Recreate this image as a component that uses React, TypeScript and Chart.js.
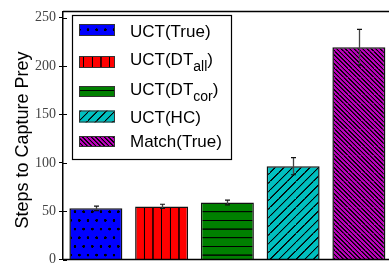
import React, { useEffect, useRef } from 'react';
import { Chart, registerables } from 'chart.js';

Chart.register(...registerables);

// ---- data ----
const categories = ['UCT(True)', 'UCT(DT_all)', 'UCT(DT_cor)', 'UCT(HC)', 'Match(True)'];
const legendMain = ['UCT(True)', 'UCT(DT', 'UCT(DT', 'UCT(HC)', 'Match(True)'];
const legendSub = ['', 'all', 'cor', '', ''];
const legendTail = ['', ')', ')', '', ''];
const steps = [53, 55, 59, 96.5, 219.5];
const stepErrors = [2.3, 2.2, 2.5, 8.8, 18.5];
const barColors = ['#0000ff', '#ff0000', '#008000', '#00bfbf', '#bf00bf'];
const hatches = ['dots', 'vertical', 'horizontal', 'diag', 'backdiag'];
const yTicks = [0, 50, 100, 150, 200, 250];
const yTitle = 'Steps to Capture Prey';

function makePattern(ctx: CanvasRenderingContext2D, color: string, hatch: string): CanvasPattern | string {
  const S = 26;
  const c = document.createElement('canvas');
  c.width = S;
  c.height = hatch === 'dots' ? 2 * S : S;
  const g = c.getContext('2d')!;
  g.fillStyle = color;
  g.fillRect(0, 0, c.width, c.height);
  g.strokeStyle = '#000';
  g.fillStyle = '#000';
  g.lineWidth = 3.5;
  g.beginPath();
  if (hatch === 'vertical') {
    g.moveTo(S / 2, 0);
    g.lineTo(S / 2, S);
    g.stroke();
  } else if (hatch === 'horizontal') {
    g.moveTo(0, S / 2);
    g.lineTo(S, S / 2);
    g.stroke();
  } else if (hatch === 'diag') {
    for (let k = -1; k <= 1; k++) {
      g.moveTo(k * S, S);
      g.lineTo(k * S + S, 0);
    }
    g.stroke();
  } else if (hatch === 'backdiag') {
    for (let k = -2; k <= 2; k += 0.5) {
      g.moveTo(k * S, 0);
      g.lineTo(k * S + S, S);
    }
    g.stroke();
  } else if (hatch === 'dots') {
    const r = 4.2;
    const pts = [
      [S / 2, S / 2],
      [0, (3 * S) / 2],
      [S, (3 * S) / 2],
    ];
    pts.forEach(([px, py]) => {
      g.moveTo(px + r, py);
      g.arc(px, py, r, 0, Math.PI * 2);
    });
    g.fill();
  }
  const p = ctx.createPattern(c, 'repeat');
  if (!p) return color;
  if ((p as any).setTransform && typeof DOMMatrix !== 'undefined') {
    p.setTransform(new DOMMatrix([1 / 3, 0, 0, 1 / 3, 1.3, -0.6]));
  }
  return p;
}

export default function App() {
  const canvasRef = useRef<HTMLCanvasElement | null>(null);

  useEffect(() => {
    const canvas = canvasRef.current;
    if (!canvas) return;
    const ctx0 = canvas.getContext('2d')!;
    const patterns = barColors.map((c, i) => makePattern(ctx0, c, hatches[i]));

    const legendRows = [
      { py: 24, ph: 12, base: 37 },
      { py: 56, ph: 12, base: 65 },
      { py: 86, ph: 11, base: 95 },
      { py: 110.5, ph: 12, base: 123 },
      { py: 136, ph: 11, base: 147 },
    ];

    const decor = {
      id: 'decor',
      afterDatasetsDraw(chart: any) {
        const { ctx, chartArea } = chart;
        const y = chart.scales.y;
        const meta = chart.getDatasetMeta(0);
        ctx.save();
        // error bars
        meta.data.forEach((bar: any, i: number) => {
          const cx = Math.round(bar.x) + 0.5;
          const yt = y.getPixelForValue(steps[i] + stepErrors[i]);
          const yb = y.getPixelForValue(steps[i] - stepErrors[i]);
          ctx.strokeStyle = '#444';
          ctx.lineWidth = 1.3;
          ctx.beginPath();
          ctx.moveTo(cx, yt);
          ctx.lineTo(cx, yb);
          ctx.stroke();
          ctx.strokeStyle = '#111';
          ctx.lineWidth = 1.2;
          ctx.beginPath();
          ctx.moveTo(cx - 2.5, yt);
          ctx.lineTo(cx + 2.5, yt);
          ctx.moveTo(cx - 2.5, yb);
          ctx.lineTo(cx + 2.5, yb);
          ctx.stroke();
        });
        // frame top & bottom
        ctx.strokeStyle = '#000';
        ctx.lineWidth = 1.5;
        ctx.beginPath();
        ctx.moveTo(chartArea.left, chartArea.top);
        ctx.lineTo(chartArea.right, chartArea.top);
        ctx.moveTo(chartArea.left, chartArea.bottom);
        ctx.lineTo(chartArea.right, chartArea.bottom);
        ctx.stroke();
        // inward ticks
        ctx.lineWidth = 1;
        ctx.beginPath();
        yTicks.forEach((v) => {
          const py = Math.round(y.getPixelForValue(v)) + 0.5;
          ctx.moveTo(chartArea.left, py);
          ctx.lineTo(chartArea.left + 4, py);
        });
        ctx.stroke();

        // legend
        ctx.fillStyle = '#fff';
        ctx.fillRect(72, 15, 160, 145);
        ctx.strokeStyle = '#000';
        ctx.lineWidth = 1.2;
        ctx.strokeRect(72.5, 15.5, 159, 144);
        legendRows.forEach((r, i) => {
          ctx.fillStyle = patterns[i];
          ctx.fillRect(79, r.py, 36, r.ph);
          ctx.strokeStyle = '#333';
          ctx.lineWidth = 1;
          ctx.strokeRect(79.5, r.py + 0.5, 35, r.ph - 1);
          ctx.fillStyle = '#000';
          ctx.textAlign = 'left';
          ctx.textBaseline = 'alphabetic';
          ctx.font = '17px "Liberation Sans", Arial, sans-serif';
          ctx.fillText(legendMain[i], 130, r.base);
          if (legendSub[i]) {
            const w = ctx.measureText(legendMain[i]).width;
            ctx.font = '14px "Liberation Sans", Arial, sans-serif';
            ctx.fillText(legendSub[i], 130 + w, r.base + 6);
            const w2 = ctx.measureText(legendSub[i]).width;
            ctx.font = '17px "Liberation Sans", Arial, sans-serif';
            ctx.fillText(legendTail[i], 130 + w + w2, r.base);
          }
        });

        // y axis title
        ctx.save();
        ctx.translate(28, 140);
        ctx.rotate(-Math.PI / 2);
        ctx.fillStyle = '#000';
        ctx.font = '18px "Liberation Sans", Arial, sans-serif';
        ctx.textAlign = 'center';
        ctx.textBaseline = 'alphabetic';
        ctx.fillText(yTitle, 0, 0);
        ctx.restore();

        ctx.restore();
      },
    };

    const chart = new Chart(canvas, {
      type: 'bar',
      data: {
        labels: categories,
        datasets: [
          {
            label: yTitle,
            data: steps,
            backgroundColor: patterns as any,
            borderColor: '#111',
            borderWidth: 1.5,
            barPercentage: 0.806,
            categoryPercentage: 1,
          },
        ],
      },
      options: {
        animation: false,
        responsive: false,
        devicePixelRatio: 1,
        layout: { padding: { left: 0, top: 7, right: 8.25, bottom: 9 } },
        plugins: {
          legend: { display: false },
          tooltip: { enabled: false },
        },
        scales: {
          x: { type: 'category', display: false, offset: true },
          y: {
            min: 0,
            max: 256.5,
            afterBuildTicks: (scale: any) => {
              scale.ticks = yTicks.map((v) => ({ value: v }));
            },
            afterFit: (scale: any) => {
              scale.width = 63;
            },
            ticks: {
              padding: 3,
              color: '#444',
              font: { family: '"Liberation Serif", "Times New Roman", serif', size: 14 },
            },
            grid: {
              drawOnChartArea: false,
              drawTicks: true,
              tickLength: 4,
              color: '#000',
              lineWidth: 1,
            },
            border: { display: true, color: '#000', width: 1.5 },
          },
        },
      },
      plugins: [decor],
    });

    return () => chart.destroy();
  }, []);

  return (
    <div style={{ position: 'absolute', left: 0, top: 0, width: 389, height: 271, overflow: 'hidden', background: '#fff' }}>
      <canvas ref={canvasRef} width={400} height={271} style={{ width: 400, height: 271, display: 'block' }} />
    </div>
  );
}
